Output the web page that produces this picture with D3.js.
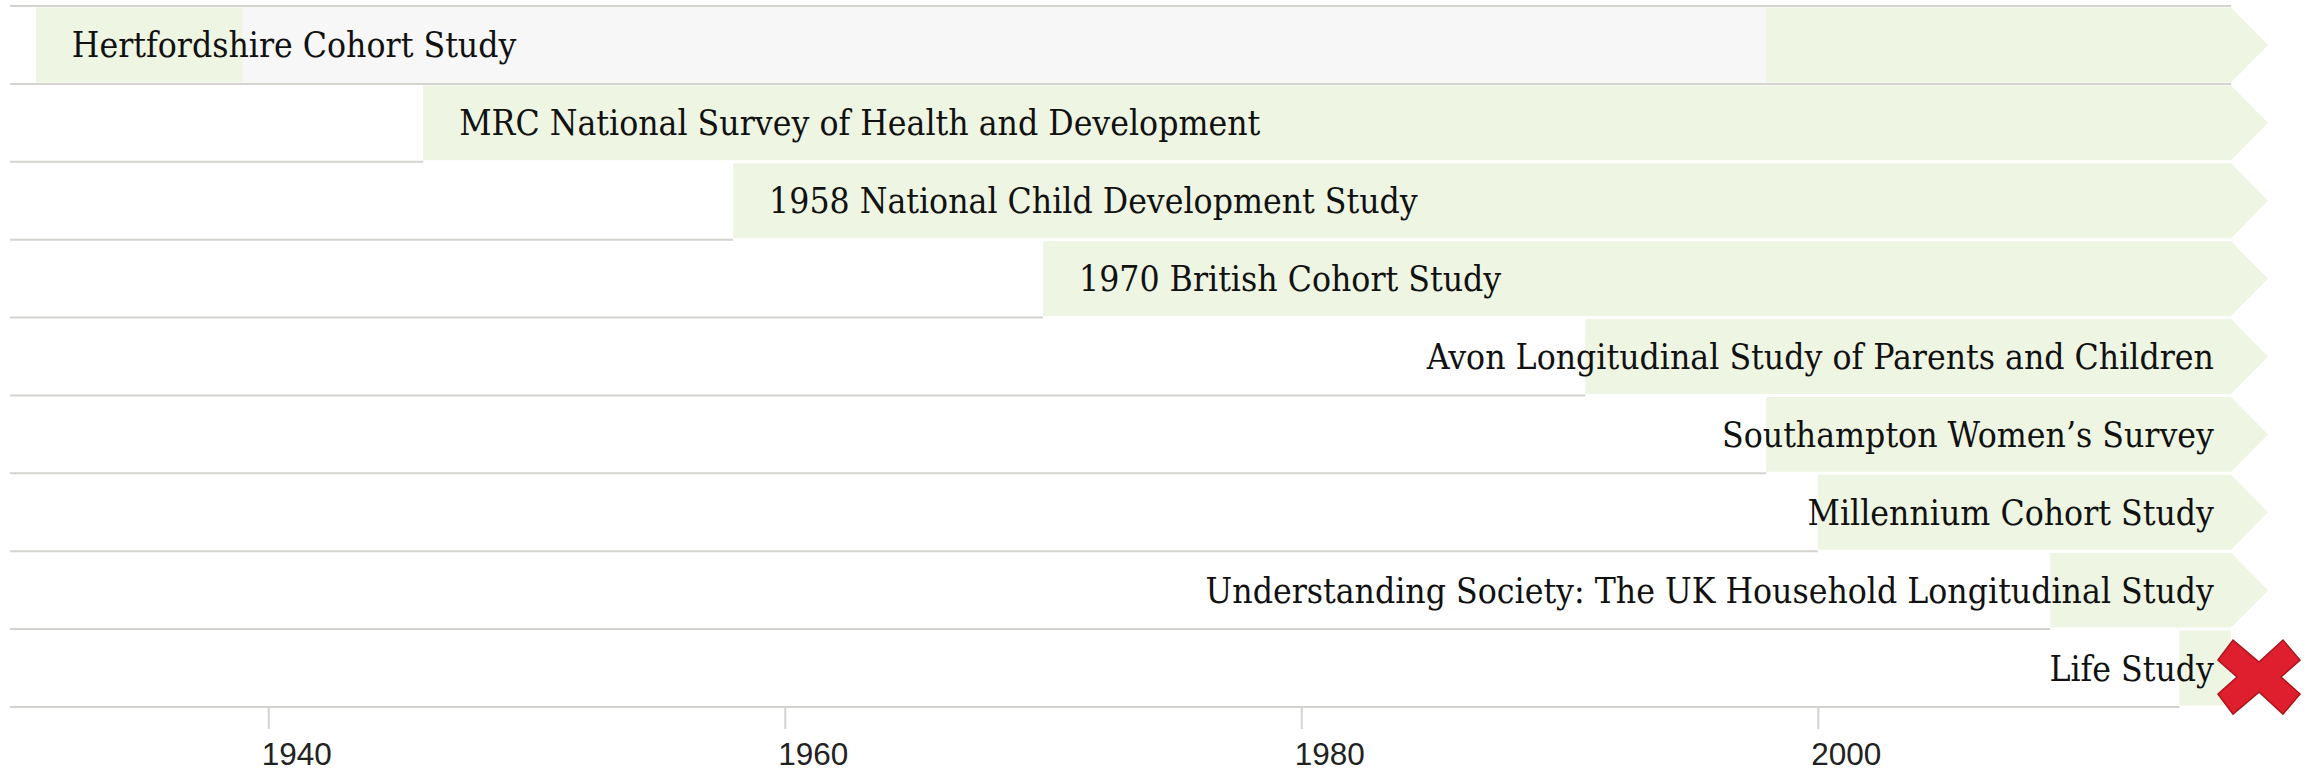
<!DOCTYPE html>
<html>
<head>
<meta charset="utf-8">
<script src="https://cdn.jsdelivr.net/npm/d3@7"></script>
<style>
  html, body { margin: 0; padding: 0; background: #fff; }
  svg { display: block; }
</style>
</head>
<body>
<script>
// ---- data ----
const studies = [
  "Hertfordshire Cohort Study",
  "MRC National Survey of Health and Development",
  "1958 National Child Development Study",
  "1970 British Cohort Study",
  "Avon Longitudinal Study of Parents and Children",
  "Southampton Women\u2019s Survey",
  "Millennium Cohort Study",
  "Understanding Society: The UK Household Longitudinal Study",
  "Life Study"
];
const startYears = [1931, 1946, 1958, 1970, 1991, 1998, 2000, 2009, 2014];
const gapStartYears = [1939, null, null, null, null, null, null, null, null];
const gapEndYears   = [1998, null, null, null, null, null, null, null, null];
const ongoing = [true, true, true, true, true, true, true, true, false];
const yearDomain = [1930, 2016];
const tickYears = [1940, 1960, 1980, 2000];

// ---- layout ----
const W = 2316, H = 772;
const svg = d3.select("body").append("svg").attr("width", W).attr("height", H);

const x = d3.scaleLinear().domain(yearDomain).range([10, 2231]);
const y = d3.scaleBand().domain(studies).range([6, 707]);
const bw = y.bandwidth();

const lineColor = "#d4d3cf";
const green = "#eef5e2";
const gapColor = "#f7f7f7";

const rows = studies.map((name, i) => ({
  name, start: startYears[i], gapStart: gapStartYears[i], gapEnd: gapEndYears[i],
  ongoing: ongoing[i], i
}));

// row border lines (behind bars)
const gLines = svg.append("g");
gLines.append("line")
  .attr("x1", x(yearDomain[0])).attr("x2", x(yearDomain[1]))
  .attr("y1", y(studies[0])).attr("y2", y(studies[0]))
  .attr("stroke", lineColor).attr("stroke-width", 2);
gLines.selectAll("line.row").data(rows).join("line")
  .attr("class", "row")
  .attr("x1", x(yearDomain[0]))
  .attr("x2", d => d.gapStart != null ? x(yearDomain[1]) : x(d.start))
  .attr("y1", d => y(d.name) + bw).attr("y2", d => y(d.name) + bw)
  .attr("stroke", lineColor).attr("stroke-width", 2);

// bars
const tip = 37;
const gBars = svg.append("g");
gBars.selectAll("path.bar").data(rows).join("path")
  .attr("class", "bar")
  .attr("fill", green)
  .attr("d", d => {
    const x0 = x(d.start), x1 = x(yearDomain[1]);
    const yt = y(d.name) + 1.5, yb = y(d.name) + bw - 1.5, ym = y(d.name) + bw / 2;
    if (d.ongoing) {
      return `M${x0},${yt}H${x1}L${x1 + tip},${ym}L${x1},${yb}H${x0}Z`;
    }
    return `M${x0},${yt}H${x1}V${yb}H${x0}Z`;
  });

// gap segments
gBars.selectAll("rect.gap").data(rows.filter(d => d.gapStart != null)).join("rect")
  .attr("class", "gap")
  .attr("x", d => x(d.gapStart))
  .attr("width", d => x(d.gapEnd) - x(d.gapStart))
  .attr("y", d => y(d.name) + 1.5)
  .attr("height", bw - 3)
  .attr("fill", gapColor);

// labels
const gLabels = svg.append("g")
  .attr("font-family", "'DejaVu Serif Condensed', 'DejaVu Serif', serif")
  .attr("font-size", 35.2)
  .attr("fill", "#111");
gLabels.selectAll("text").data(rows).join("text")
  .attr("x", d => d.start < 1980 ? x(d.start) + 36 : x(yearDomain[1]) - 17)
  .attr("text-anchor", d => d.start < 1980 ? "start" : "end")
  .attr("y", d => y(d.name) + bw / 2 + 12.5)
  .text(d => d.name);

// cancelled marker (red cross)
const crossPts = [
  [-41,-17],[-26,-37],[0,-15],[24,-37],[41,-17],[22,0],
  [41,17],[24,37],[0,15],[-26,37],[-41,17],[-22,0]
];
svg.append("g").selectAll("path.cross").data(rows.filter(d => !d.ongoing)).join("path")
  .attr("class", "cross")
  .attr("transform", d => `translate(${x(yearDomain[1]) + 28},${y(d.name) + bw / 2 + 9})`)
  .attr("d", "M" + crossPts.map(p => p.join(",")).join("L") + "Z")
  .attr("fill", "#e01f2e")
  .attr("stroke", "#a9161f")
  .attr("stroke-width", 1.5)
  .attr("stroke-linejoin", "miter");

// axis
const axis = svg.append("g")
  .attr("transform", `translate(0,${y.range()[1]})`)
  .call(d3.axisBottom(x).tickValues(tickYears).tickFormat(d3.format("d")).tickSize(22).tickPadding(13.5));
axis.select(".domain").remove();
axis.selectAll(".tick line").attr("stroke", lineColor).attr("stroke-width", 2);
axis.selectAll(".tick text")
  .attr("font-family", "'Liberation Sans', Arial, sans-serif")
  .attr("font-size", 31.5)
  .attr("text-anchor", "start")
  .attr("x", -7)
  .attr("fill", "#222");
</script>
</body>
</html>
